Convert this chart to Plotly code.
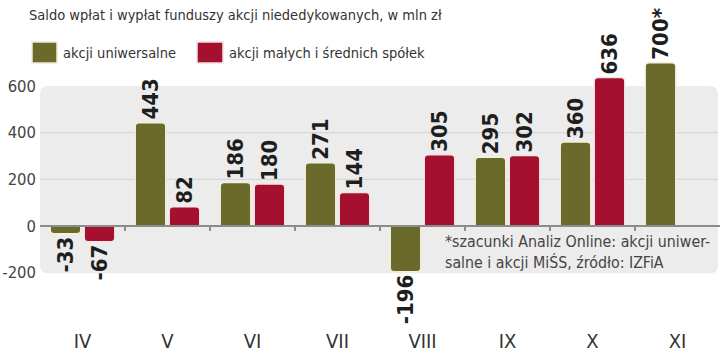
import plotly.graph_objects as go

categories = ["IV", "V", "VI", "VII", "VIII", "IX", "X", "XI"]
uniwersalne = [-33, 443, 186, 271, -196, 295, 360, 700]
male_srednie = [-67, 82, 180, 144, 305, 302, 636, None]
estimated = [False, False, False, False, False, False, False, True]
y_ticks = [-200, 0, 200, 400, 600]
grid_vals = [200, 400]

OLIVE = "#6a6a2b"
RED = "#a6102f"
FONT = "DejaVu Sans Condensed, DejaVu Sans, sans-serif"

def labels(vals, est=None):
    out = []
    for i, v in enumerate(vals):
        if v is None:
            out.append("")
        else:
            out.append(f"{v}" + ("*" if est and est[i] else ""))
    return out

fig = go.Figure()
common = dict(textposition="outside", textangle=-90, cliponaxis=False, constraintext="none",
              textfont=dict(family=FONT, size=22, color="#1e1e1e", weight="bold"))
fig.add_trace(go.Bar(x=categories, y=uniwersalne, name="akcji uniwersalne",
                     text=labels(uniwersalne, estimated),
                     marker=dict(color=OLIVE, line=dict(color="#f3efdc", width=1.5), cornerradius=4),
                     **common))
fig.add_trace(go.Bar(x=categories, y=male_srednie, name="akcji małych i średnich spółek",
                     text=labels(male_srednie),
                     marker=dict(color=RED, line=dict(color="#f3e6e6", width=1.5), cornerradius=4),
                     **common))
# helper trace for zero-line axis with boundary ticks
fig.add_trace(go.Scatter(x=list(range(len(categories))), y=[0] * len(categories), xaxis="x2",
                         mode="lines", line=dict(width=0), hoverinfo="skip", showlegend=False))

W, H = 720, 355
L, R, T, B = 40, 0, 58, 31
ymin, ymax = -420, 720
zero_pos = (0 - ymin) / (ymax - ymin)
plot_h = H - T - B
plot_w = W - L - R

def pyp(pix):
    # page pixel row -> paper y
    return (H - B - pix) / plot_h

def pxp(pix):
    # page pixel column -> paper x
    return (pix - L) / plot_w

# panel with rounded corners
x0, x1 = 0.0, pxp(718)
pb, pt = -203, 600
rx, ry = 0.012, 34
panel = (f"M {x0+rx},{pb} L {x1-rx},{pb} Q {x1},{pb} {x1},{pb+ry} L {x1},{pt-ry} "
         f"Q {x1},{pt} {x1-rx},{pt} L {x0+rx},{pt} Q {x0},{pt} {x0},{pt-ry} "
         f"L {x0},{pb+ry} Q {x0},{pb} {x0+rx},{pb} Z")
shapes = [dict(type="path", path=panel, xref="paper", yref="y", fillcolor="#ececec",
               line=dict(width=0), layer="below")]
for g in grid_vals:
    shapes.append(dict(type="line", xref="paper", yref="y", x0=0, x1=x1, y0=g, y1=g,
                       line=dict(color="#d2d2d2", width=1), layer="below"))

# legend boxes
shapes.append(dict(type="rect", xref="paper", yref="paper", x0=pxp(32), x1=pxp(57), y0=pyp(63), y1=pyp(42),
                   fillcolor=OLIVE, line=dict(color="#efe9d2", width=1.5)))
shapes.append(dict(type="rect", xref="paper", yref="paper", x0=pxp(197), x1=pxp(223), y0=pyp(63), y1=pyp(42),
                   fillcolor=RED, line=dict(color="#f1e2e2", width=1.5)))

annotations = [
    dict(text="Saldo wpłat i wypłat funduszy akcji niededykowanych, w mln zł", xref="paper", yref="paper",
         x=pxp(27), y=pyp(15), xanchor="left", yanchor="middle", showarrow=False,
         font=dict(family=FONT, size=14.5, color="#333333")),
    dict(text="akcji uniwersalne", xref="paper", yref="paper", x=pxp(61), y=pyp(53),
         xanchor="left", yanchor="middle", showarrow=False,
         font=dict(family=FONT, size=14.5, color="#333333")),
    dict(text="akcji małych i średnich spółek", xref="paper", yref="paper", x=pxp(227), y=pyp(53),
         xanchor="left", yanchor="middle", showarrow=False,
         font=dict(family=FONT, size=14.5, color="#333333")),
    dict(text="*szacunki Analiz Online: akcji uniwer-<br>salne i akcji MiŚS, źródło: IZFiA",
         xref="paper", yref="paper", x=pxp(443), y=pyp(252), xanchor="left", yanchor="middle",
         align="left", showarrow=False, font=dict(family=FONT, size=15.8, color="#444444")),
]

fig.update_layout(
    width=W, height=H,
    margin=dict(l=L, r=R, t=T, b=B, autoexpand=False),
    paper_bgcolor="white", plot_bgcolor="rgba(0,0,0,0)",
    barmode="group", bargap=0.2, bargroupgap=0.1,
    showlegend=False,
    shapes=shapes, annotations=annotations,
    xaxis=dict(type="category", showline=False, showgrid=False, ticks="", zeroline=False, automargin=False,
               ticklabelstandoff=3, tickfont=dict(family=FONT, size=20, color="#333333")),
    xaxis2=dict(overlaying="x", anchor="free", position=zero_pos, range=[-0.5, len(categories) - 0.5],
                tickvals=[i + 0.5 for i in range(len(categories) - 1)], showticklabels=False,
                showline=True, linecolor="#8c8c8c", linewidth=1.5, ticks="outside", ticklen=4,
                tickcolor="#8c8c8c", tickwidth=1.5, showgrid=False, zeroline=False),
    yaxis=dict(range=[ymin, ymax], tickvals=y_ticks, ticktext=[str(v) for v in y_ticks],
               showgrid=False, zeroline=False, showline=False, ticklabelstandoff=3,
               automargin=False, tickfont=dict(family=FONT, size=16.5, color="#444444")),
)

fig.write_html("out.html", config={"displayModeBar": False},
               post_script="document.body.style.margin='0px';document.body.style.overflow='hidden';")
